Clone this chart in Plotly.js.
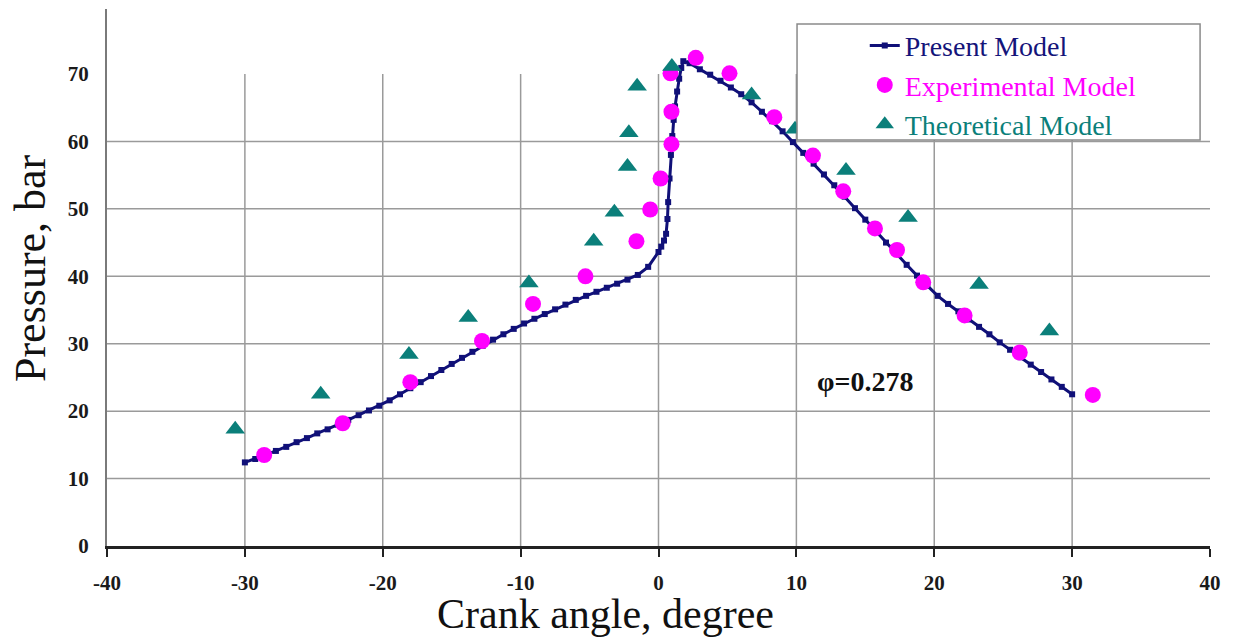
<!DOCTYPE html>
<html>
<head>
<meta charset="utf-8">
<script src="https://cdn.plot.ly/plotly-3.0.1.min.js"></script>
<style>
  html, body { margin: 0; padding: 0; background: #ffffff; }
  #chart { width: 1234px; height: 638px; }
</style>
</head>
<body>
<div id="chart"></div>
<script>
// Cylinder pressure vs crank angle (phi = 0.278)

// Present Model (simulation curve)
const crankAngle = [
  -30, -29.25, -28.5, -27.75, -27, -26.25, -25.5, -24.75, -24, -23.25,
  -22.5, -21.75, -21, -20.25, -19.5, -18.75, -18, -17.25, -16.5, -15.75,
  -15, -14.25, -13.5, -12.75, -12, -11.25, -10.5, -9.75, -9, -8.25,
  -7.5, -6.75, -6, -5.25, -4.5, -3.75, -3, -2.25, -1.5, -0.75,
  0, 0.2, 0.4, 0.55, 0.65, 0.7, 0.8, 0.9, 1.0, 1.1,
  1.2, 1.35, 1.5, 1.65, 1.8, 2.25, 3, 3.75, 4.5, 5.25,
  6, 6.75, 7.5, 8.25, 9, 9.75, 10.5, 11.25, 12, 12.75,
  13.5, 14.25, 15, 15.75, 16.5, 17.25, 18, 18.75, 19.5, 20.25,
  21, 21.75, 22.5, 23.25, 24, 24.75, 25.5, 26.25, 27, 27.75,
  28.5, 29.25, 30
];
const presentPressure = [
  12.4, 12.9, 13.5, 14.1, 14.7, 15.4, 16.0, 16.7, 17.3, 18.0,
  18.7, 19.4, 20.1, 20.8, 21.6, 22.5, 23.4, 24.3, 25.2, 26.1,
  27.0, 27.9, 28.8, 29.7, 30.6, 31.4, 32.2, 33.0, 33.7, 34.4,
  35.1, 35.8, 36.5, 37.1, 37.7, 38.3, 38.9, 39.5, 40.2, 41.4,
  43.6, 44.4, 45.3, 46.3, 48.5, 51.0, 54.5, 58.0, 60.8, 63.2,
  65.2, 67.4, 69.3, 70.9, 71.9, 71.6, 70.7, 69.9, 69.0, 68.0,
  67.0, 65.8, 64.4, 63.0, 61.5, 59.9, 58.3, 56.7, 55.1, 53.5,
  51.8, 50.1, 48.4, 46.7, 45.0, 43.3, 41.7, 40.1, 38.6, 37.1,
  35.9, 34.8, 33.6, 32.5, 31.4, 30.2, 29.1, 28.0, 26.9, 25.8,
  24.7, 23.6, 22.5
];

// Experimental Model
const expAngle = [
  -28.6, -22.9, -18.0, -12.8, -9.1, -5.3, -1.6, -0.6, 0.15, 0.94,
  0.94, 0.87, 2.7, 5.15, 8.4, 11.2, 13.4, 15.7, 17.3, 19.2,
  22.2, 26.2, 31.5
];
const expPressure = [
  13.5, 18.2, 24.3, 30.4, 35.9, 40.0, 45.2, 49.9, 54.5, 59.6,
  64.4, 70.1, 72.4, 70.1, 63.6, 57.9, 52.6, 47.1, 43.9, 39.1,
  34.2, 28.7, 22.4
];

// Theoretical Model
const theoAngle = [
  -30.7, -24.5, -18.1, -13.8, -9.4, -4.7, -3.2, -2.25, -2.15, -1.55,
  0.97, 6.75, 9.9, 13.6, 18.1, 23.25, 28.35
];
const theoPressure = [
  17.3, 22.5, 28.4, 33.9, 39.0, 45.2, 49.5, 56.3, 61.3, 68.2,
  71.1, 66.9, 61.8, 55.7, 48.7, 38.8, 31.9
];

// axis ticks and grid positions
const xTicks = [-40, -30, -20, -10, 0, 10, 20, 30, 40];
const xTickText = ['-40', '-30', '-20', '-10', '0', '10', '20', '30', '40'];
const yTicks = [0, 10, 20, 30, 40, 50, 60, 70];
const yTickText = ['0', '10', '20', '30', '40', '50', '60', '70'];
const xGrid = [-30, -20, -10, 0, 10, 20, 30];
const yGrid = [10, 20, 30, 40, 50, 60];
const gridTop = 70;

const serif = 'Liberation Serif, Times New Roman, serif';
const bold = t => '<b>' + t + '</b>';
const gridLine = { color: '#9a9a9a', width: 1.5 };

const traces = [
  {
    x: crankAngle, y: presentPressure,
    type: 'scatter', mode: 'lines+markers',
    name: '<span style="color:#14147a">Present Model</span>',
    line: { color: '#101078', width: 3 },
    marker: { symbol: 'square', size: 6, color: '#101078' }
  },
  {
    x: expAngle, y: expPressure,
    type: 'scatter', mode: 'markers',
    name: '<span style="color:#ff00ff">Experimental Model</span>',
    marker: { symbol: 'circle', size: 16, color: '#ff00ff' }
  },
  {
    x: theoAngle, y: theoPressure,
    type: 'scatter', mode: 'markers',
    name: '<span style="color:#0b7f7a">Theoretical Model</span>',
    marker: { symbol: 'triangle-up', size: 17, color: '#0b7f7a' }
  }
];

const shapes = [];
xGrid.forEach(v => shapes.push({
  type: 'line', layer: 'below', xref: 'x', yref: 'y',
  x0: v, x1: v, y0: 0, y1: gridTop, line: gridLine
}));
yGrid.forEach(v => shapes.push({
  type: 'line', layer: 'below', xref: 'paper', yref: 'y',
  x0: 0, x1: 1, y0: v, y1: v, line: gridLine
}));
// legend frame
shapes.push({
  type: 'rect', xref: 'paper', yref: 'paper', layer: 'above',
  x0: 0.6256, x1: 0.991, y0: 0.756, y1: 0.972,
  fillcolor: '#ffffff', line: { color: '#8a8a8a', width: 1.5 }
});

const layout = {
  width: 1234,
  height: 638,
  paper_bgcolor: '#ffffff',
  plot_bgcolor: '#ffffff',
  margin: { l: 107, r: 24, t: 9, b: 92 },
  showlegend: true,
  legend: {
    x: 0.687, y: 0.978, xanchor: 'left', yanchor: 'top',
    bgcolor: 'rgba(0,0,0,0)', borderwidth: 0,
    font: { family: serif, size: 28 },
    tracegroupgap: 0
  },
  xaxis: {
    range: [-40, 40],
    tickmode: 'array', tickvals: xTicks, ticktext: xTickText.map(bold),
    ticks: 'outside', ticklen: 8, tickwidth: 2, tickcolor: '#222222',
    ticklabelstandoff: 8,
    tickfont: { family: serif, size: 21, color: '#1a1a1a' },
    showline: true, linecolor: '#222222', linewidth: 2.5,
    showgrid: false, zeroline: false, fixedrange: true
  },
  yaxis: {
    range: [0, 79.64],
    tickmode: 'array', tickvals: yTicks, ticktext: yTickText.map(bold),
    ticks: '',
    ticklabelstandoff: 12,
    tickfont: { family: serif, size: 21, color: '#1a1a1a' },
    showline: true, linecolor: '#7a7a7a', linewidth: 2,
    showgrid: false, zeroline: false, fixedrange: true
  },
  shapes: shapes,
  annotations: [
    { text: bold('φ=0.278'), xref: 'x', yref: 'y', x: 15, y: 24.4,
      showarrow: false, font: { family: serif, size: 28, color: '#111111' } },
    { text: 'Crank angle, degree', xref: 'paper', yref: 'paper',
      x: (605 - 107) / 1103, y: -(614 - 546) / 537, xanchor: 'center', yanchor: 'middle',
      showarrow: false, font: { family: serif, size: 42, color: '#111111' } },
    { text: 'Pressure, bar', xref: 'paper', yref: 'paper', textangle: -90,
      x: -(107 - 30) / 1103, y: (546 - 268) / 537, xanchor: 'center', yanchor: 'middle',
      showarrow: false, font: { family: serif, size: 44, color: '#111111' } }
  ]
};

Plotly.newPlot('chart', traces, layout, { displayModeBar: false, staticPlot: true });
</script>
</body>
</html>
